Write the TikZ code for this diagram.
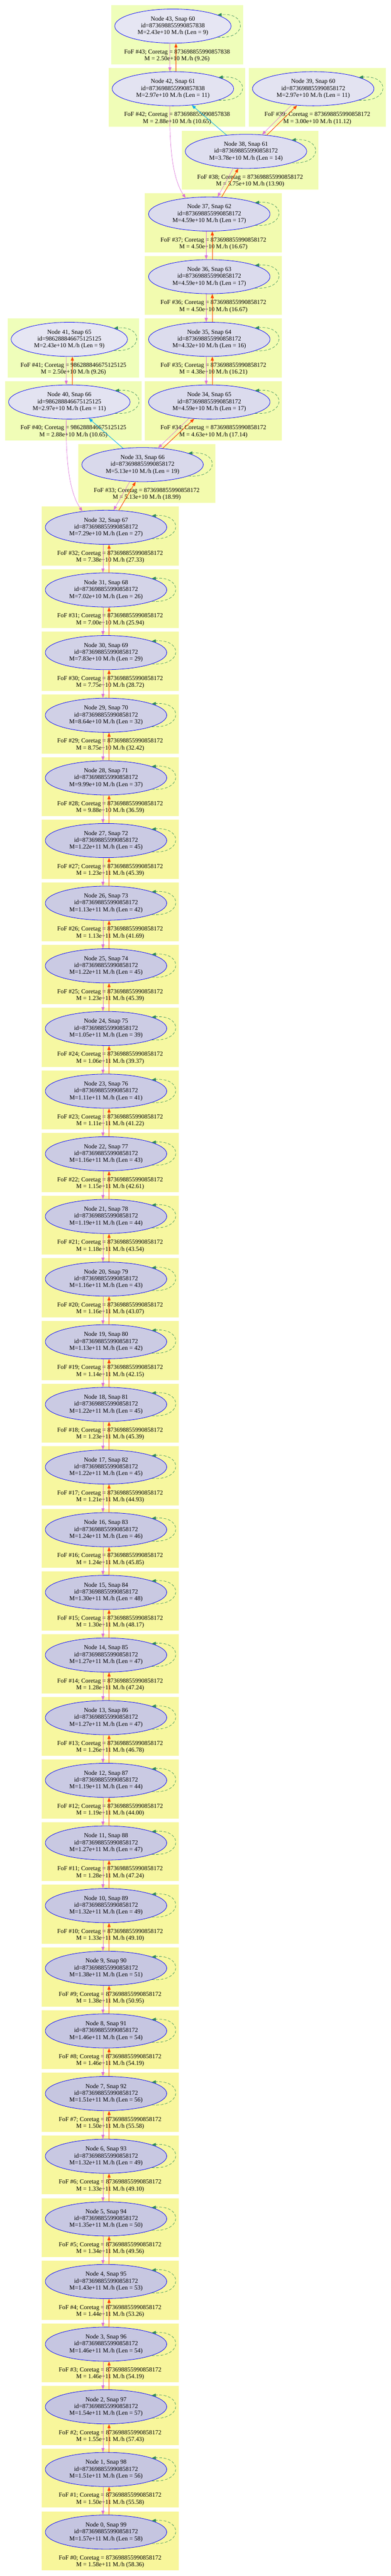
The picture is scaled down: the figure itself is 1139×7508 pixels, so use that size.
\documentclass[tikz,border=0pt]{standalone}
\usepackage{fontspec}
\setmainfont{Liberation Serif}
\usepackage{tikz}
\usetikzlibrary{arrows.meta,calc,shapes.geometric}
\definecolor{fofLo}{HTML}{EFFEBA}
\definecolor{fofHi}{HTML}{F8F69B}
\definecolor{haloLo}{HTML}{E6E6F3}
\definecolor{haloHi}{HTML}{C5C5E0}
\definecolor{progviolet}{HTML}{DA70D6}
\definecolor{descred}{HTML}{FF4500}
\definecolor{loopgreen}{HTML}{2E8B57}

\begin{document}
\begin{tikzpicture}[
        x = 0.5pt, y = -0.5pt,
        >= {Triangle[length=6pt,width=4.5pt]},
        halo/.style = {ellipse, draw=blue, line width=0.6pt, minimum height=49.75pt, inner sep=0pt, align=center, font=\fontsize{9}{10}\selectfont},
        foflabel/.style = {align=center, inner sep=0pt, font=\fontsize{9}{10}\selectfont},
        prog/.style = {->, progviolet, line width=0.5pt},
        desc/.style = {->, descred, line width=0.75pt},
        host/.style = {->, cyan, line width=0.65pt},
        selfloop/.style = {->, loopgreen, line width=0.5pt, dash pattern=on 4pt off 2.5pt}
    ]
    \useasboundingbox (0,0) rectangle (1139,7508);
    \foreach \nn/\snap/\cx/\rank/\hid/\mh/\len/\mf/\fr in {
        43/60/504/0/873698855990857838/2.43e+10/9/2.50e+10/9.26,
        42/61/504/1/873698855990857838/2.97e+10/11/2.88e+10/10.65,
        39/60/913/1/873698855990858172/2.97e+10/11/3.00e+10/11.12,
        38/61/717/2/873698855990858172/3.78e+10/14/3.75e+10/13.90,
        37/62/610/3/873698855990858172/4.59e+10/17/4.50e+10/16.67,
        36/63/610/4/873698855990858172/4.59e+10/17/4.50e+10/16.67,
        41/65/202/5/986288846675125125/2.43e+10/9/2.50e+10/9.26,
        35/64/610/5/873698855990858172/4.32e+10/16/4.38e+10/16.21,
        40/66/202/6/986288846675125125/2.97e+10/11/2.88e+10/10.65,
        34/65/610/6/873698855990858172/4.59e+10/17/4.63e+10/17.14,
        33/66/415.5/7/873698855990858172/5.13e+10/19/5.13e+10/18.99,
        32/67/309/8/873698855990858172/7.29e+10/27/7.38e+10/27.33,
        31/68/309/9/873698855990858172/7.02e+10/26/7.00e+10/25.94,
        30/69/309/10/873698855990858172/7.83e+10/29/7.75e+10/28.72,
        29/70/309/11/873698855990858172/8.64e+10/32/8.75e+10/32.42,
        28/71/309/12/873698855990858172/9.99e+10/37/9.88e+10/36.59,
        27/72/309/13/873698855990858172/1.22e+11/45/1.23e+11/45.39,
        26/73/309/14/873698855990858172/1.13e+11/42/1.13e+11/41.69,
        25/74/309/15/873698855990858172/1.22e+11/45/1.23e+11/45.39,
        24/75/309/16/873698855990858172/1.05e+11/39/1.06e+11/39.37,
        23/76/309/17/873698855990858172/1.11e+11/41/1.11e+11/41.22,
        22/77/309/18/873698855990858172/1.16e+11/43/1.15e+11/42.61,
        21/78/309/19/873698855990858172/1.19e+11/44/1.18e+11/43.54,
        20/79/309/20/873698855990858172/1.16e+11/43/1.16e+11/43.07,
        19/80/309/21/873698855990858172/1.13e+11/42/1.14e+11/42.15,
        18/81/309/22/873698855990858172/1.22e+11/45/1.23e+11/45.39,
        17/82/309/23/873698855990858172/1.22e+11/45/1.21e+11/44.93,
        16/83/309/24/873698855990858172/1.24e+11/46/1.24e+11/45.85,
        15/84/309/25/873698855990858172/1.30e+11/48/1.30e+11/48.17,
        14/85/309/26/873698855990858172/1.27e+11/47/1.28e+11/47.24,
        13/86/309/27/873698855990858172/1.27e+11/47/1.26e+11/46.78,
        12/87/309/28/873698855990858172/1.19e+11/44/1.19e+11/44.00,
        11/88/309/29/873698855990858172/1.27e+11/47/1.28e+11/47.24,
        10/89/309/30/873698855990858172/1.32e+11/49/1.33e+11/49.10,
        9/90/309/31/873698855990858172/1.38e+11/51/1.38e+11/50.95,
        8/91/309/32/873698855990858172/1.46e+11/54/1.46e+11/54.19,
        7/92/309/33/873698855990858172/1.51e+11/56/1.50e+11/55.58,
        6/93/309/34/873698855990858172/1.32e+11/49/1.33e+11/49.10,
        5/94/309/35/873698855990858172/1.35e+11/50/1.34e+11/49.56,
        4/95/309/36/873698855990858172/1.43e+11/53/1.44e+11/53.26,
        3/96/309/37/873698855990858172/1.46e+11/54/1.46e+11/54.19,
        2/97/309/38/873698855990858172/1.54e+11/57/1.55e+11/57.43,
        1/98/309/39/873698855990858172/1.51e+11/56/1.50e+11/55.58,
        0/99/309/40/873698855990858172/1.57e+11/58/1.58e+11/58.36}
    {
        \pgfmathsetmacro\T{15.5+182.6*\rank}
        \pgfmathsetmacro\half{\len<10 ? 169.5 : 177}
        \pgfmathtruncatemacro\pct{100*ln(\len/9)/ln(58/9)}
        \fill [fill={fofHi!\pct!fofLo}] ({\cx-\half-10.5},\T) rectangle ({\cx+\half+34.5},\T+172);
        \node [halo, fill={haloHi!\pct!haloLo}, minimum width=\half pt] (n\nn) at (\cx,\T+60.5) {Node \nn, Snap \snap\\id=\hid\\M=\mh{} M./h (Len = \len)};
        \node [foflabel] (f\nn) at (\cx+12,\T+147) {FoF \#\nn; Coretag = \hid\\M = \mf{} M./h (\fr)};
    }
    \foreach \up/\lo in {43/42,37/36,36/35,35/34,41/40}
    {
        \draw [prog] (n\up.260) -- (n\lo.100);
        \draw [desc] (n\lo.80) -- (n\up.280);
    }
    \foreach \up [evaluate=\up as \lo using int(\up-1)] in {32,...,1}
    {
        \draw [prog] (n\up.260) -- (n\lo.100);
        \draw [desc] (n\lo.80) -- (n\up.280);
    }
    \draw [prog] (n39.217) -- (n38.46);
    \draw [desc] (n38.38) -- (n39.226);
    \draw [prog] (n38.233) -- (n37.64);
    \draw [desc] (n37.54) -- (n38.246);
    \draw [host] (n38.140) -- (n42.319);
    \draw [prog] (n42.260) .. controls ($(n42.260)+(-2,131)$) and ($(n37.146)+(-36,-53)$) .. (n37.146);
    \draw [prog] (n34.219) -- (n33.47);
    \draw [desc] (n33.39) -- (n34.228);
    \draw [prog] (n33.233) -- (n32.66);
    \draw [desc] (n32.53) -- (n33.248);
    \draw [host] (n33.140) -- (n40.320);
    \draw [prog] (n40.260) .. controls ($(n40.260)+(-2,131)$) and ($(n32.146)+(-36,-53)$) .. (n32.146);
    \foreach \nn in {43,42,...,0}
        \draw [selfloop] (n\nn.346) .. controls ($(n\nn.east)+(47,40)$) and ($(n\nn.east)+(47,-40)$) .. (n\nn.14);
\end{tikzpicture}
\end{document}
